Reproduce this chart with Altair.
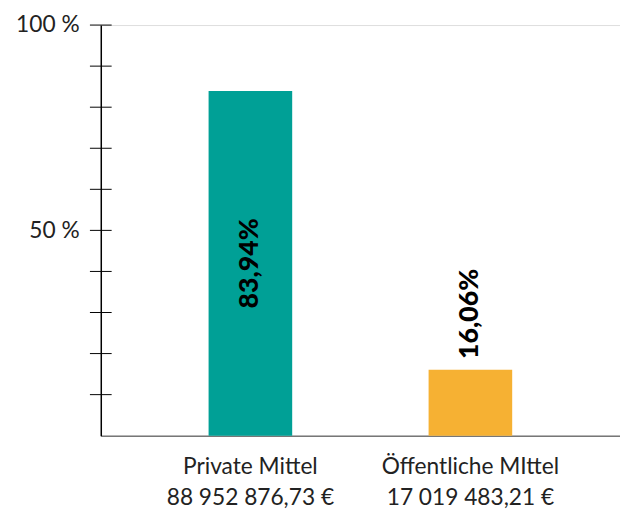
import altair as alt
import pandas as pd

categories = ["Private Mittel", "Öffentliche MIttel"]
amounts = ["88 952 876,73 €", "17 019 483,21 €"]
shares = [83.94, 16.06]
share_labels = ["83,94%", "16,06%"]
colors = ["#00A096", "#F6B133"]
tick_values = [10, 20, 30, 40, 50, 60, 70, 80, 90, 100]
axis_label_values = [50, 100]

keys = [f"{c}|{a}" for c, a in zip(categories, amounts)]
df = pd.DataFrame({"cat": keys, "share": shares, "label": share_labels})
ticks_df = pd.DataFrame({"t": tick_values})

FONT = "Lato"

x_enc = alt.X(
    "cat:N",
    sort=keys,
    scale=alt.Scale(paddingInner=0.62, paddingOuter=0.49, align=0.5),
    axis=alt.Axis(
        title=None,
        labelExpr="split(datum.label, '|')",
        labelAngle=0,
        ticks=False,
        domainColor="#777777",
        domainWidth=1.5,
        labelFont=FONT,
        labelFontSize=23,
        labelColor="#222222",
        labelLineHeight=32,
        labelPadding=20,
        labelLimit=300,
    ),
)

y_scale = alt.Scale(domain=[0, 100], nice=False)

y_axis = alt.Axis(
    values=axis_label_values,
    ticks=False,
    title=None,
    grid=False,
    labelExpr="datum.value + ' %'",
    domainColor="black",
    domainWidth=1.5,
    labelFont=FONT,
    labelFontSize=23,
    labelColor="#222222",
    labelPadding=22,
)

bars = alt.Chart(df).mark_bar().encode(
    x=x_enc,
    y=alt.Y("share:Q", scale=y_scale, axis=y_axis),
    color=alt.Color("cat:N", scale=alt.Scale(domain=keys, range=colors), legend=None),
)

tick_rules = alt.Chart(ticks_df).mark_rule(color="black", strokeWidth=1).encode(
    y=alt.Y("t:Q", scale=y_scale, axis=y_axis),
    x=alt.value(-11),
    x2=alt.value(11),
)

label_inside = (
    alt.Chart(df)
    .transform_filter("datum.share > 50")
    .transform_calculate(half="datum.share / 2")
    .mark_text(angle=270, align="center", baseline="middle", fontWeight=900,
               fontSize=27, font=FONT, color="black")
    .encode(x=alt.X("cat:N", sort=keys), y=alt.Y("half:Q", scale=y_scale, axis=y_axis), text="label:N")
)

label_above = (
    alt.Chart(df)
    .transform_filter("datum.share <= 50")
    .mark_text(angle=270, align="left", baseline="middle", dx=11, fontWeight=900,
               fontSize=27, font=FONT, color="black")
    .encode(x=alt.X("cat:N", sort=keys), y=alt.Y("share:Q", scale=y_scale, axis=y_axis), text="label:N")
)

chart = (
    alt.layer(bars, tick_rules, label_inside, label_above)
    .properties(
        width=526,
        height=416,
        padding={"left": 94, "top": 14, "right": 0, "bottom": 73},
        autosize=alt.AutoSizeParams(type="none"),
    )
    .configure_view(stroke=None)
    .configure(font=FONT)
)

chart.save("out.html", embed_options={"renderer": "svg", "actions": False})
